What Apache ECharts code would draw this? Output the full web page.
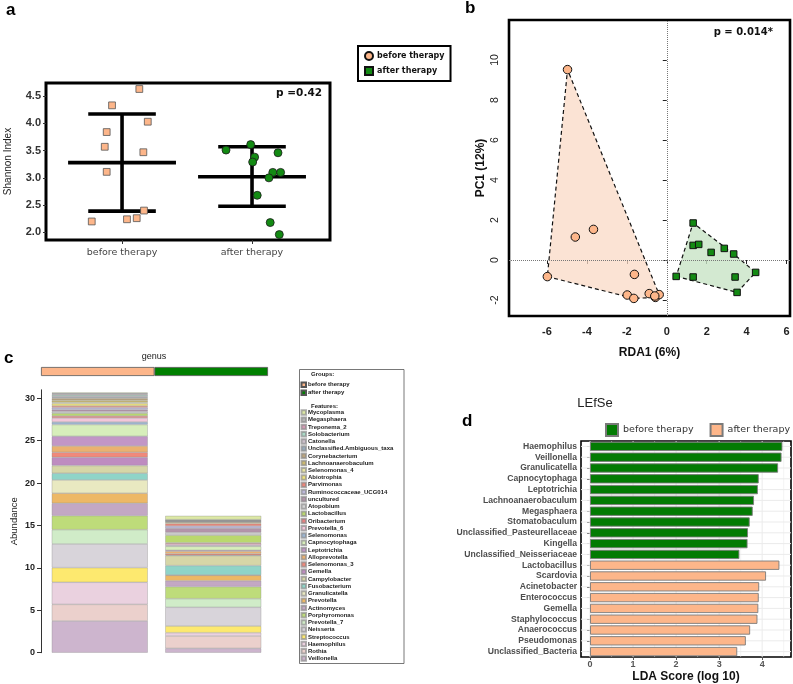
<!DOCTYPE html>
<html><head><meta charset="utf-8">
<script src="https://cdn.jsdelivr.net/npm/echarts@6/dist/echarts.min.js"></script>
<style>html,body{margin:0;padding:0;background:#fff}#chart{width:793px;height:684px}</style>
</head><body><div id="chart"></div>
<script>
// ---------------- Panel a : Shannon index ----------------
const groups = ['before therapy', 'after therapy'];
const shannonBeforeX = [1.133, 0.923, 1.198, 0.882, 0.867, 1.164, 0.882, 1.169, 0.767, 1.038, 1.113];
const shannonBeforeY = [4.63, 4.33, 4.03, 3.84, 3.57, 3.47, 3.11, 2.40, 2.20, 2.24, 2.26];
const shannonAfterX = [1.80, 1.99, 2.02, 2.005, 2.20, 2.16, 2.22, 2.13, 2.04, 2.14, 2.21];
const shannonAfterY = [3.51, 3.61, 3.38, 3.29, 3.46, 3.10, 3.10, 3.00, 2.68, 2.18, 1.96];
const shannonMean = [3.28, 3.02];
const shannonLow = [2.39, 2.48];
const shannonHigh = [4.17, 3.57];
const shannonTicks = [2.0, 2.5, 3.0, 3.5, 4.0, 4.5];
const shannonP = 'p =0.42';

// ---------------- Panel b : RDA ----------------
const rdaBeforeX = [-4.97, -4.58, -3.67, -5.98, -1.62, -1.98, -1.65, -0.88, -0.57, -0.38, -0.60];
const rdaBeforeY = [9.52, 1.15, 1.53, -0.83, -0.72, -1.75, -1.92, -1.68, -1.87, -1.73, -1.80];
const rdaAfterX = [1.32, 1.32, 1.60, 2.22, 2.88, 3.35, 4.45, 3.42, 3.52, 0.47, 1.32];
const rdaAfterY = [1.85, 0.73, 0.78, 0.38, 0.58, 0.30, -0.62, -0.85, -1.62, -0.82, -0.85];
const rdaXTicks = [-6, -4, -2, 0, 2, 4, 6];
const rdaYTicks = [-2, 0, 2, 4, 6, 8, 10];
const rdaP = 'p = 0.014*';

// ---------------- Panel c : genus abundance ----------------
const groupSamples = [11, 11];
// bottom-up stacking order
const features = ['Veillonella', 'Rothia', 'Haemophilus', 'Streptococcus', 'Neisseria', 'Prevotella_7',
  'Porphyromonas', 'Actinomyces', 'Prevotella', 'Granulicatella', 'Fusobacterium', 'Campylobacter',
  'Gemella', 'Selenomonas_3', 'Alloprevotella', 'Leptotrichia', 'Capnocytophaga', 'Selenomonas',
  'Prevotella_6', 'Oribacterium', 'Lactobacillus', 'Atopobium', 'uncultured', 'Ruminococcaceae_UCG014',
  'Parvimonas', 'Abiotrophia', 'Selenomonas_4', 'Lachnoanaerobaculum', 'Corynebacterium',
  'Unclassified.Ambiguous_taxa', 'Catonella', 'Solobacterium', 'Treponema_2', 'Megasphaera', 'Mycoplasma'];
const abundBefore = [3.74, 1.96, 2.60, 1.73, 2.79, 1.69, 1.65, 1.46, 1.18, 1.57, 0.79, 0.90,
  0.98, 0.59, 0.75, 1.14, 1.38, 0.31, 0.47, 0.24, 0.31, 0.20, 0.23, 0.24,
  0.20, 0.28, 0.16, 0.24, 0.23, 0.10, 0.14, 0.14, 0.10, 0.10, 0.08];
const abundAfter = [0.51, 1.46, 0.39, 0.79, 2.20, 1.02, 1.42, 0.70, 0.63, 0.05, 1.10, 1.18,
  0.05, 0.16, 0.31, 0.10, 0.47, 0.10, 0.20, 0.12, 0.90, 0.30, 0.50, 0.28,
  0.28, 0.15, 0.04, 0.04, 0.04, 0.04, 0.04, 0.04, 0.04, 0.04, 0.45];
const abundTicks = [0, 5, 10, 15, 20, 25, 30];

// ---------------- Panel d : LEfSe ----------------
const ldaTaxa = ['Haemophilus', 'Veillonella', 'Granulicatella', 'Capnocytophaga', 'Leptotrichia',
  'Lachnoanaerobaculum', 'Megasphaera', 'Stomatobaculum', 'Unclassified_Pasteurellaceae', 'Kingella',
  'Unclassified_Neisseriaceae', 'Lactobacillus', 'Scardovia', 'Acinetobacter', 'Enterococcus', 'Gemella',
  'Staphylococcus', 'Anaerococcus', 'Pseudomonas', 'Unclassified_Bacteria'];
const ldaBefore = [4.47, 4.45, 4.37, 3.92, 3.90, 3.81, 3.78, 3.71, 3.67, 3.66, 3.47];
const ldaAfter = [4.40, 4.09, 3.93, 3.92, 3.91, 3.89, 3.72, 3.62, 3.42];
const ldaTicks = [0, 1, 2, 3, 4];

// ---------------- styles ----------------
const ORANGE = '#FDB68A';
const GREEN = '#138A13';
const DGREEN = '#037B03';
const featureColors = {
  'Veillonella': '#CDB5CE', 'Rothia': '#EBD0CC', 'Haemophilus': '#EAD1DF', 'Streptococcus': '#FDE96F',
  'Neisseria': '#D8D4DA', 'Prevotella_7': '#D0ECC8', 'Porphyromonas': '#BEDC7A', 'Actinomyces': '#C3A8C4',
  'Prevotella': '#EDB866', 'Granulicatella': '#E9E9C1', 'Fusobacterium': '#8FD4C8', 'Campylobacter': '#D6D6A7',
  'Gemella': '#BE8CC0', 'Selenomonas_3': '#F0897B', 'Alloprevotella': '#EAB171', 'Leptotrichia': '#C296C6',
  'Capnocytophaga': '#D7EEBB', 'Selenomonas': '#9DB6D2', 'Prevotella_6': '#F3C6DA', 'Oribacterium': '#E58080',
  'Lactobacillus': '#BAD86E', 'Atopobium': '#D4D4D4', 'uncultured': '#B494AA', 'Ruminococcaceae_UCG014': '#BDB8DA',
  'Parvimonas': '#EC8579', 'Abiotrophia': '#EFE27C', 'Selenomonas_4': '#E9E6A2', 'Lachnoanaerobaculum': '#CBB96E',
  'Corynebacterium': '#BBA47D', 'Unclassified.Ambiguous_taxa': '#98ACBD', 'Catonella': '#CCC0CC',
  'Solobacterium': '#A9D9C6', 'Treponema_2': '#D29AB3', 'Megasphaera': '#B5B5B5', 'Mycoplasma': '#DDE9A6'
};
const displayName = {
  b_before: 'before therapy', b_after: 'after therapy',
  g_before: 'before therapy', g_after: 'after therapy',
  d_before: 'before therapy', d_after: 'after therapy'
};
const SANS = 'Liberation Sans';
const DJV = 'DejaVu Sans';

function convexHull(xs, ys) {
  const p = xs.map((x, i) => [x, ys[i]]).sort((a, b) => a[0] - b[0] || a[1] - b[1]);
  const cross = (o, a, b) => (a[0] - o[0]) * (b[1] - o[1]) - (a[1] - o[1]) * (b[0] - o[0]);
  const lower = [];
  for (const q of p) { while (lower.length >= 2 && cross(lower[lower.length - 2], lower[lower.length - 1], q) <= 0) lower.pop(); lower.push(q); }
  const upper = [];
  for (let i = p.length - 1; i >= 0; i--) { const q = p[i]; while (upper.length >= 2 && cross(upper[upper.length - 2], upper[upper.length - 1], q) <= 0) upper.pop(); upper.push(q); }
  upper.pop(); lower.pop();
  return lower.concat(upper);
}
const hullBefore = convexHull(rdaBeforeX, rdaBeforeY);
const hullAfter = convexHull(rdaAfterX, rdaAfterY);

function hullSeries(hull, fill) {
  return {
    type: 'custom', xAxisIndex: 1, yAxisIndex: 1, z: 1, silent: true, clip: false,
    data: [[0, 0]],
    renderItem: (params, api) => ({
      type: 'polygon',
      shape: { points: hull.map(p => api.coord(p)) },
      style: { fill: fill, stroke: '#111', lineWidth: 1.2, lineDash: [4, 3] }
    })
  };
}

const chart = echarts.init(document.getElementById('chart'), null, { renderer: 'canvas' });

const series = [];
// panel a
series.push({
  type: 'custom', xAxisIndex: 0, yAxisIndex: 0, z: 2, silent: true,
  data: groups.map((g, i) => [i + 1, shannonMean[i], shannonLow[i], shannonHigh[i]]),
  renderItem: (params, api) => {
    const x = api.value(0), m = api.value(1), lo = api.value(2), hi = api.value(3);
    const seg = (x1, y1, x2, y2) => {
      const a = api.coord([x1, y1]), b = api.coord([x2, y2]);
      return { type: 'line', shape: { x1: a[0], y1: a[1], x2: b[0], y2: b[1] }, style: { stroke: '#000', lineWidth: 3.6 } };
    };
    return { type: 'group', children: [seg(x, lo, x, hi), seg(x - 0.415, m, x + 0.415, m), seg(x - 0.26, lo, x + 0.26, lo), seg(x - 0.26, hi, x + 0.26, hi)] };
  }
});
series.push({
  name: 'a_before', type: 'scatter', xAxisIndex: 0, yAxisIndex: 0, z: 3, symbol: 'rect', symbolSize: 6.8,
  itemStyle: { color: ORANGE, borderColor: '#555', borderWidth: 0.8, opacity: 1 },
  data: shannonBeforeX.map((x, i) => [x, shannonBeforeY[i]])
});
series.push({
  name: 'a_after', type: 'scatter', xAxisIndex: 0, yAxisIndex: 0, z: 3, symbol: 'circle', symbolSize: 8,
  itemStyle: { color: GREEN, borderColor: '#1a1a1a', borderWidth: 0.8, opacity: 1 },
  data: shannonAfterX.map((x, i) => [x, shannonAfterY[i]])
});
// panel b
series.push(hullSeries(hullBefore, 'rgba(250,218,198,0.75)'));
series.push(hullSeries(hullAfter, 'rgba(200,228,198,0.8)'));
series.push({
  name: 'b_before', type: 'scatter', xAxisIndex: 1, yAxisIndex: 1, z: 3, symbol: 'circle', symbolSize: 8.5,
  itemStyle: { color: ORANGE, borderColor: '#111', borderWidth: 1, opacity: 1 },
  data: rdaBeforeX.map((x, i) => [x, rdaBeforeY[i]]),
  markLine: {
    silent: true, symbol: 'none', label: { show: false },
    lineStyle: { type: 'dotted', color: '#777', width: 1 },
    data: [{ xAxis: 0 }, { yAxis: 0 }]
  }
});
series.push({
  name: 'b_after', type: 'scatter', xAxisIndex: 1, yAxisIndex: 1, z: 3, symbol: 'rect', symbolSize: 6.5,
  itemStyle: { color: GREEN, borderColor: '#111', borderWidth: 1, opacity: 1 },
  data: rdaAfterX.map((x, i) => [x, rdaAfterY[i]])
});
// panel c stacked bars
features.forEach((f, i) => {
  series.push({
    name: f, type: 'bar', stack: 'genus', xAxisIndex: 2, yAxisIndex: 2, barWidth: 96,
    itemStyle: { color: featureColors[f], borderColor: 'rgba(140,140,140,0.7)', borderWidth: 0.5 },
    data: [abundBefore[i], abundAfter[i]]
  });
});
// group colour bar
series.push({
  name: 'g_before', type: 'bar', stack: 'grp', xAxisIndex: 4, yAxisIndex: 4, barWidth: 9,
  itemStyle: { color: ORANGE, borderColor: '#555', borderWidth: 0.8 }, data: [groupSamples[0]]
});
series.push({
  name: 'g_after', type: 'bar', stack: 'grp', xAxisIndex: 4, yAxisIndex: 4, barWidth: 9,
  itemStyle: { color: '#008000', borderColor: '#555', borderWidth: 0.8 }, data: [groupSamples[1]]
});
// panel d gridlines (behind bars)
const ldaVGrid = [];
for (let v = 0; v <= 4.5; v += 0.5) ldaVGrid.push([v, 0]);
series.push({
  type: 'custom', xAxisIndex: 3, yAxisIndex: 3, z: 1, silent: true, clip: true,
  data: ldaVGrid,
  renderItem: (params, api) => {
    const cs = params.coordSys;
    const v = api.value(0);
    const x = api.coord([v, 0])[0];
    return { type: 'line', shape: { x1: x, y1: cs.y, x2: x, y2: cs.y + cs.height },
      style: { stroke: '#EBEBEB', lineWidth: (v % 1 === 0) ? 1 : 0.5 } };
  }
});
series.push({
  type: 'custom', xAxisIndex: 3, yAxisIndex: 3, z: 1, silent: true, clip: true,
  data: ldaTaxa.map((t, i) => [0, i]),
  renderItem: (params, api) => {
    const cs = params.coordSys;
    const y = api.coord([0, api.value(1)])[1];
    return { type: 'line', shape: { x1: cs.x, y1: y, x2: cs.x + cs.width, y2: y },
      style: { stroke: '#EBEBEB', lineWidth: 1 } };
  }
});
series.push({
  name: 'd_before', type: 'bar', stack: 'lda', xAxisIndex: 3, yAxisIndex: 3, z: 3, barWidth: '86%',
  itemStyle: { color: DGREEN, borderColor: '#7a7a7a', borderWidth: 0.9 },
  data: ldaTaxa.map((t, i) => i < ldaBefore.length ? ldaBefore[i] : '-')
});
series.push({
  name: 'd_after', type: 'bar', stack: 'lda', xAxisIndex: 3, yAxisIndex: 3, z: 3, barWidth: '86%',
  itemStyle: { color: ORANGE, borderColor: '#7a7a7a', borderWidth: 0.9 },
  data: ldaTaxa.map((t, i) => i >= ldaBefore.length ? ldaAfter[i - ldaBefore.length] : '-')
});

const fmt = n => displayName[n] || n;

const option = {
  animation: false,
  backgroundColor: '#fff',
  grid: [
    { left: 46, top: 83, width: 284, height: 157, show: true, borderColor: '#000', borderWidth: 3, backgroundColor: 'transparent' },
    { left: 509, top: 20, width: 281, height: 296, show: true, borderColor: '#000', borderWidth: 2.6, backgroundColor: 'transparent' },
    { left: 43, top: 389.8, width: 227, height: 262.9 },
    { left: 581, top: 441, width: 210, height: 217, show: true, borderColor: '#000', borderWidth: 1.6, backgroundColor: 'transparent' },
    { left: 41, top: 367, width: 227, height: 9 }
  ],
  xAxis: [
    { gridIndex: 0, type: 'value', min: 0.415, max: 2.6, axisLine: { show: false }, splitLine: { show: false },
      axisTick: { show: true, length: 4, customValues: [1, 2], lineStyle: { color: '#333' } },
      axisLabel: { customValues: [1, 2], formatter: v => groups[Math.round(v) - 1], fontFamily: DJV, fontSize: 9.5, color: '#444', margin: 8 } },
    { gridIndex: 1, type: 'value', min: -7.9, max: 6.17, axisLine: { show: false }, splitLine: { show: false },
      name: 'RDA1 (6%)', nameLocation: 'middle', nameGap: 31, nameTextStyle: { fontFamily: SANS, fontWeight: 'bold', fontSize: 12, color: '#111' },
      axisTick: { show: true, length: 4, customValues: rdaXTicks, lineStyle: { color: '#222' } },
      axisLabel: { customValues: rdaXTicks, fontFamily: SANS, fontWeight: 'bold', fontSize: 11, color: '#222', margin: 10 } },
    { gridIndex: 2, type: 'category', data: groups, axisLine: { show: false }, axisTick: { show: false }, axisLabel: { show: false } },
    { gridIndex: 3, type: 'value', min: -0.21, max: 4.67, axisLine: { show: false }, splitLine: { show: false },
      name: 'LDA Score (log 10)', nameLocation: 'middle', nameGap: 14, nameTextStyle: { fontFamily: SANS, fontWeight: 'bold', fontSize: 12, color: '#111', verticalAlign: 'top' },
      axisTick: { show: true, length: 3, customValues: ldaTicks, lineStyle: { color: '#555' } },
      axisLabel: { customValues: ldaTicks, fontFamily: SANS, fontWeight: 'bold', fontSize: 9, color: '#555', margin: 3 } },
    { gridIndex: 4, type: 'value', min: 0, max: groupSamples[0] + groupSamples[1], show: false }
  ],
  yAxis: [
    { gridIndex: 0, type: 'value', min: 1.86, max: 4.74, axisLine: { show: false }, splitLine: { show: false },
      name: 'Shannon Index', nameLocation: 'middle', nameGap: 33, nameRotate: 90,
      nameTextStyle: { fontFamily: SANS, fontSize: 10, color: '#222' },
      axisTick: { show: true, length: 3, customValues: shannonTicks, lineStyle: { color: '#333' } },
      axisLabel: { customValues: shannonTicks, formatter: v => v.toFixed(1), fontFamily: SANS, fontWeight: 'bold', fontSize: 11, color: '#333', margin: 5 } },
    { gridIndex: 1, type: 'value', min: -2.8, max: 12, axisLine: { show: false }, splitLine: { show: false },
      name: 'PC1 (12%)', nameLocation: 'middle', nameGap: 22, nameRotate: 90,
      nameTextStyle: { fontFamily: SANS, fontWeight: 'bold', fontSize: 12, color: '#111' },
      axisTick: { show: true, length: 4, customValues: rdaYTicks, lineStyle: { color: '#222' } },
      axisLabel: { customValues: rdaYTicks, rotate: 90, fontFamily: SANS, fontSize: 10.5, color: '#222', margin: 8 } },
    { gridIndex: 2, type: 'value', min: 0, max: 31, offset: 2, splitLine: { show: false },
      name: 'Abundance', nameLocation: 'middle', nameGap: 22, nameRotate: 90,
      nameTextStyle: { fontFamily: SANS, fontSize: 9.5, color: '#222' },
      axisLine: { show: true, lineStyle: { color: '#333', width: 1 } },
      axisTick: { show: true, length: 4, customValues: abundTicks, lineStyle: { color: '#333' } },
      axisLabel: { customValues: abundTicks, fontFamily: SANS, fontWeight: 'bold', fontSize: 9, color: '#222', margin: 6 } },
    { gridIndex: 3, type: 'category', data: ldaTaxa, inverse: true, axisLine: { show: false },
      axisTick: { show: true, length: 3, alignWithLabel: true, lineStyle: { color: '#555' } },
      axisLabel: { fontFamily: SANS, fontWeight: 'bold', fontSize: 8.6, color: '#4D4D4D', margin: 4, interval: 0 } },
    { gridIndex: 4, type: 'category', data: ['genus'], show: false }
  ],
  legend: [
    { left: 358, top: 46, orient: 'vertical', selectedMode: false, data: [{ name: 'b_before', icon: 'circle' }, { name: 'b_after', icon: 'rect' }],
      formatter: fmt, itemWidth: 8, itemHeight: 8, itemGap: 5, padding: [5, 6, 5, 6], borderColor: '#000', borderWidth: 2,
      textStyle: { fontFamily: DJV, fontWeight: 'bold', fontSize: 8, color: '#111', padding: [0, 0, 0, -1] } },
    { left: 300.5, top: 381, orient: 'vertical', selectedMode: false, data: [{ name: 'g_before', icon: 'rect' }, { name: 'g_after', icon: 'rect' }],
      formatter: fmt, itemWidth: 4.5, itemHeight: 4.5, itemGap: 0.5, padding: 0,
      textStyle: { fontFamily: SANS, fontWeight: 'bold', fontSize: 6, lineHeight: 7.5, color: '#222', padding: [0, 0, 0, -3] } },
    { left: 300.5, top: 408.8, orient: 'vertical', selectedMode: false, data: features.slice().reverse().map(f => ({ name: f, icon: 'rect' })),
      itemWidth: 4.5, itemHeight: 4.5, itemGap: 0, padding: 0,
      textStyle: { fontFamily: SANS, fontWeight: 'bold', fontSize: 6, lineHeight: 7.24, color: '#222', padding: [0, 0, 0, -3] } },
    { left: 605, top: 423, orient: 'horizontal', selectedMode: false, data: [{ name: 'd_before', icon: 'rect' }, { name: 'd_after', icon: 'rect' }],
      formatter: fmt, itemWidth: 12, itemHeight: 12, itemGap: 16, padding: 0,
      textStyle: { fontFamily: DJV, fontSize: 9.5, color: '#333' } }
  ],
  graphic: [
    { type: 'text', left: 6, top: 2, style: { text: 'a', font: 'bold 17px "Liberation Sans"', fill: '#000' } },
    { type: 'text', left: 465, top: 0, style: { text: 'b', font: 'bold 17px "Liberation Sans"', fill: '#000' } },
    { type: 'text', left: 4, top: 350, style: { text: 'c', font: 'bold 17px "Liberation Sans"', fill: '#000' } },
    { type: 'text', left: 462, top: 413, style: { text: 'd', font: 'bold 17px "Liberation Sans"', fill: '#000' } },
    { type: 'text', x: 322, y: 93, style: { text: shannonP, font: 'bold 10.5px "DejaVu Sans"', fill: '#111', textAlign: 'right', textVerticalAlign: 'middle' } },
    { type: 'text', x: 773, y: 32, style: { text: rdaP, font: 'bold 10px "DejaVu Sans"', fill: '#111', textAlign: 'right', textVerticalAlign: 'middle' } },
    { type: 'text', x: 154, y: 357, style: { text: 'genus', font: '9px "Liberation Sans"', fill: '#222', textAlign: 'center', textVerticalAlign: 'middle' } },
    { type: 'rect', shape: { x: 299.5, y: 369.5, width: 104.5, height: 294 }, style: { fill: 'none', stroke: '#555', lineWidth: 0.8 } },
    { type: 'text', x: 311, y: 374, style: { text: 'Groups:', font: 'bold 6px "Liberation Sans"', fill: '#222', textVerticalAlign: 'middle' } },
    { type: 'text', x: 311, y: 406.5, style: { text: 'Features:', font: 'bold 6px "Liberation Sans"', fill: '#222', textVerticalAlign: 'middle' } },
    { type: 'text', x: 595, y: 403, style: { text: 'LEfSe', font: '13px "Liberation Sans"', fill: '#222', textAlign: 'center', textVerticalAlign: 'middle' } }
  ],
  series: series
};
chart.setOption(option);
</script>
</body></html>
